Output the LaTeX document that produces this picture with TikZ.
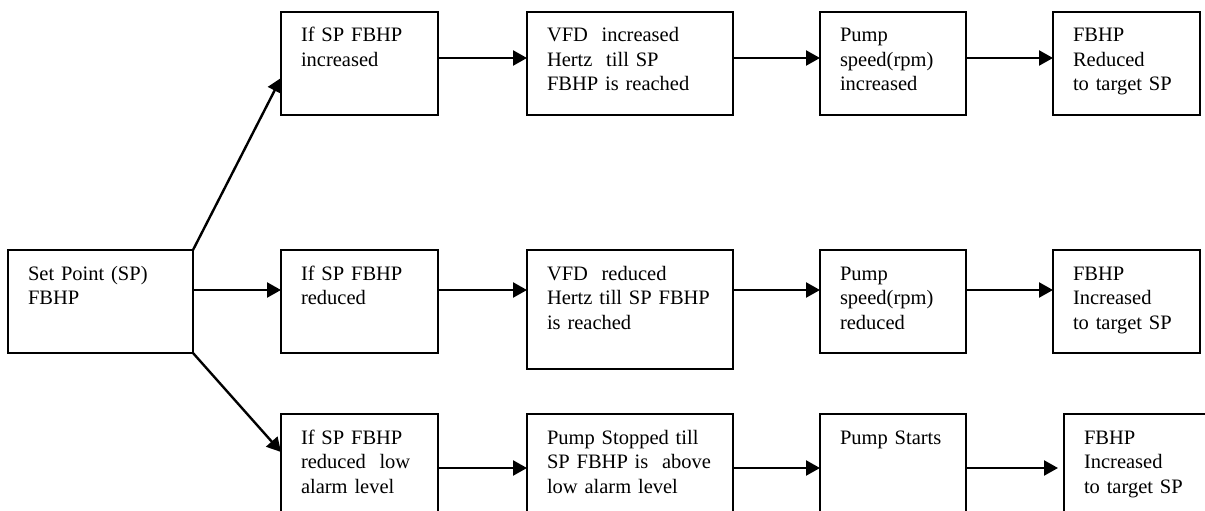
\documentclass[tikz,border=0pt]{standalone}
\usepackage{fontspec}
\setmainfont{Liberation Serif}
\usepackage{tikz}
\usetikzlibrary{positioning, arrows.meta, calc}

\begin{document}
\begin{tikzpicture}[
    x=1pt, y=-1pt,
    stepbox/.style={rectangle, draw, line width=1.4pt, outer sep=0pt, anchor=north west, align=left, inner xsep=20pt, inner ysep=16pt, text height=14pt, text depth=57pt, font=\fontsize{20.5}{24.5}\selectfont},
    ifbox/.style={stepbox, text width=117pt},
    vfdbox/.style={stepbox, text width=166pt},
    pumpbox/.style={stepbox, text width=106pt},
    endbox/.style={stepbox, text width=107pt},
    lowrow/.style={text depth=74pt},
    arrow/.style={-{Triangle[length=14pt, width=15pt]}, line width=2.4pt}
]
    \useasboundingbox (0,0) rectangle (1205,511);
    \clip (0,0) rectangle (1205,511);

    % Top row: set point increased
    \node[ifbox] (incr) at (281,12) {If SP FBHP\\increased};
    \node[vfdbox, right=89pt of incr.north east, anchor=north west] (vfdup) {VFD~ increased\\Hertz~ till~SP\\FBHP~is~reached};
    \node[pumpbox, right=87pt of vfdup.north east, anchor=north west] (speedup) {Pump\\speed(rpm)\\increased};
    \node[endbox, right=87pt of speedup.north east, anchor=north west] (fbhpdown) {FBHP\\Reduced\\to~target~SP};

    % Middle row: set point reduced
    \node[stepbox, text width=145pt] (sp) at (8,250) {Set~Point~(SP)\\FBHP};
    \node[ifbox, right=88pt of sp.north east, anchor=north west] (redu) {If SP FBHP\\reduced};
    \node[vfdbox, text depth=73pt, right=89pt of redu.north east, anchor=north west] (vfddown) {VFD~ reduced\\Hertz~till~SP~FBHP\\is reached};
    \node[pumpbox, right=87pt of vfddown.north east, anchor=north west] (speeddown) {Pump\\speed(rpm)\\reduced};
    \node[endbox, right=87pt of speeddown.north east, anchor=north west] (fbhpup) {FBHP\\Increased\\to~target~SP};

    % Bottom row: low alarm level
    \node[ifbox, lowrow] (low) at (281,414) {If SP FBHP\\reduced~ low\\alarm level};
    \node[vfdbox, lowrow, right=89pt of low.north east, anchor=north west] (stop) {Pump~Stopped~till\\SP~FBHP~is~~above\\low~alarm~level};
    \node[pumpbox, lowrow, right=87pt of stop.north east, anchor=north west] (start) {Pump~Starts};
    \node[endbox, lowrow, right=98pt of start.north east, anchor=north west] (fbhplow) {FBHP\\Increased\\to~target~SP};

    % Branches from the set point
    \draw[arrow] (sp.north east) -- ([yshift=-66pt]incr.north west);
    \draw[arrow] ([yshift=-40pt]sp.north east) -- ([yshift=-40pt]redu.north west);
    \draw[arrow] (sp.south east) -- ([yshift=-38pt]low.north west);

    % Chains along each row
    \draw[arrow] ([yshift=-46pt]incr.north east) -- ([yshift=-46pt]vfdup.north west);
    \draw[arrow] ([yshift=-46pt]vfdup.north east) -- ([yshift=-46pt]speedup.north west);
    \draw[arrow] ([yshift=-46pt]speedup.north east) -- ([yshift=-46pt]fbhpdown.north west);
    \draw[arrow] ([yshift=-40pt]redu.north east) -- ([yshift=-40pt]vfddown.north west);
    \draw[arrow] ([yshift=-40pt]vfddown.north east) -- ([yshift=-40pt]speeddown.north west);
    \draw[arrow] ([yshift=-40pt]speeddown.north east) -- ([yshift=-40pt]fbhpup.north west);
    \draw[arrow] ([yshift=-54pt]low.north east) -- ([yshift=-54pt]stop.north west);
    \draw[arrow] ([yshift=-54pt]stop.north east) -- ([yshift=-54pt]start.north west);
    \draw[arrow, shorten >=6pt] ([yshift=-54pt]start.north east) -- ([yshift=-54pt]fbhplow.north west);
\end{tikzpicture}
\end{document}
